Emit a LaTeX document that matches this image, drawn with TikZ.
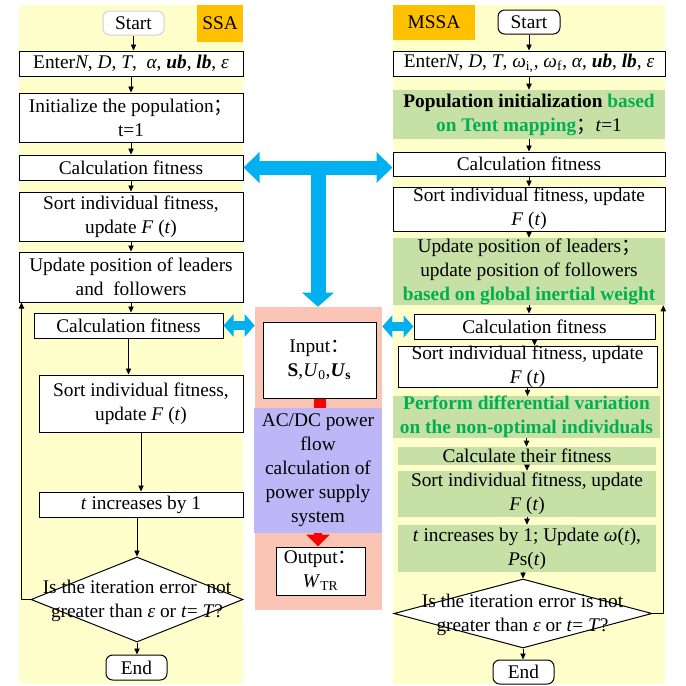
\documentclass[tikz,border=0pt]{standalone}
\usepackage{fontspec}
\setmainfont{Liberation Serif}
\newfontfamily\cjk{Noto Sans CJK SC}
\usepackage{xcolor}
\usepackage{tikz}
\usetikzlibrary{arrows.meta}
\usetikzlibrary{calc}
\usetikzlibrary{shapes.geometric}
\definecolor{bgyellow}{HTML}{FFFFCC}
\definecolor{tagorange}{HTML}{FFC000}
\definecolor{boxgreen}{HTML}{C6E0A6}
\definecolor{txtgreen}{HTML}{00B050}
\definecolor{midpink}{HTML}{FBC5B5}
\definecolor{flowpurple}{HTML}{BDB7F7}
\definecolor{arrowblue}{HTML}{00B0F0}
\newcommand\bi[1]{\textbf{\textit{#1}}}
\newcommand\gtxt[1]{{\color{txtgreen}\textbf{#1}}}
\newcommand\fsemi{{\cjk ；}}
\newcommand\fcolon{{\cjk ：}}
\tikzset{sz/.style 2 args={minimum width=#1*.75pt,minimum height=#2*.75pt}}
\tikzstyle{panel}=[fill=bgyellow,inner sep=0pt]
\tikzstyle{tag}=[fill=tagorange,inner sep=0pt]
\tikzstyle{stepbox}=[draw,line width=.75pt,fill=white,align=center,inner sep=0pt]
\tikzstyle{greenbox}=[fill=boxgreen,align=center,inner sep=0pt]
\tikzstyle{term}=[draw,line width=.75pt,rounded corners=5pt,fill=white,inner sep=0pt]
\tikzstyle{decision}=[draw,line width=.75pt,diamond,fill=white,inner sep=0pt]
\tikzstyle{flow}=[line width=.6pt,-{Triangle[length=4.5pt,width=4pt]}]
\tikzstyle{bigarrow}=[draw=arrowblue,line width=10.5pt,{Triangle[length=12pt,width=22.5pt]}-{Triangle[length=12pt,width=22.5pt]}]
\tikzstyle{bigstem}=[draw=arrowblue,line width=11.25pt,-{Triangle[length=10.5pt,width=23.25pt]}]
\tikzstyle{sidearrow}=[draw=arrowblue,line width=6.75pt,{Triangle[length=7.5pt,width=16.5pt]}-{Triangle[length=7.5pt,width=16.5pt]}]

\begin{document}
\begin{tikzpicture}[x=.75pt,y=-.75pt,font=\fontsize{14.5}{18}\selectfont]
	\fill[white] (0,0) rectangle (686,686);
	\useasboundingbox (0,0) rectangle (686,686);
	\node[panel,sz={224}{679}] (panelL) at (131,344.5) {};
	\node[panel,sz={272}{679}] (panelR) at (529,344.5) {};
	\node[fill=midpink,inner sep=0pt,sz={127}{303}] (mid) at (318.5,458.5) {};
	% SSA
	\node[tag,sz={46}{37}] (ssa) at (220,23.5) {SSA};
	\node[term,draw=gray!35,sz={61}{24}] (startL) at (133.5,23) {Start};
	\node[stepbox,sz={224}{25}] (enterL) at (131,63.5) {Enter\textit{N}, \textit{D}, \textit{T},\ \ \textit{α}, \bi{ub}, \bi{lb}, \textit{ε}};
	\node[stepbox,sz={224}{49}] (initL) at (131,117.5) {Initialize the population\fsemi\\t=1};
	\node[stepbox,sz={224}{25}] (calcL) at (131,167.5) {Calculation fitness};
	\node[stepbox,sz={224}{49}] (sortL) at (131,216.5) {Sort individual fitness,\\update \textit{F} (\textit{t})};
	\node[stepbox,sz={224}{50}] (updL) at (131,277) {Update position of leaders\\and\ \ followers};
	\node[stepbox,sz={189}{25}] (calcL2) at (128.5,325.5) {Calculation fitness};
	\node[stepbox,sz={204}{57}] (sortL2) at (141,403.5) {Sort individual fitness,\\update \textit{F} (\textit{t})};
	\node[stepbox,sz={204}{25}] (incL) at (141,504.5) {\textit{t} increases by 1};
	\node[decision,sz={212}{85}] (decL) at (137,599.5) {};
	\node[align=center] (decLtxt) at (137,601) {Is the iteration error\ \ not\\greater than \textit{ε} or \textit{t}= \textit{T}?};
	\node[term,sz={61}{25}] (endL) at (136.5,667.5) {End};
	% MSSA
	\node[tag,sz={82}{35}] (mssa) at (434,22.5) {MSSA};
	\node[term,sz={62}{24}] (startR) at (529,22) {Start};
	\node[stepbox,sz={272}{25}] (enterR) at (529,63.5) {Enter\textit{N}, \textit{D}, \textit{T}, \textit{ω}\textsubscript{i,}, \textit{ω}\textsubscript{f}, \textit{α}, \bi{ub}, \bi{lb}, \textit{ε}};
	\node[greenbox,sz={272}{49}] (initR) at (529,114.5) {\textbf{Population initialization} \gtxt{based}\\\gtxt{on Tent mapping}\fsemi\textit{t}=1};
	\node[stepbox,sz={272}{24}] (calcR) at (529,164) {Calculation fitness};
	\node[stepbox,sz={272}{44}] (sortR) at (529,209) {Sort individual fitness, update\\\textit{F} (\textit{t})};
	\node[greenbox,sz={272}{67}] (updR) at (529,271.5) {Update position of leaders\fsemi\\update position of followers\\\gtxt{based on global inertial weight}};
	\node[stepbox,sz={241}{25}] (calcR2) at (534.5,326.5) {Calculation fitness};
	\node[stepbox,sz={259}{40}] (sortR2) at (527.5,367) {Sort individual fitness, update\\\textit{F} (\textit{t})};
	\node[greenbox,sz={267}{40}] (perfR) at (526.5,417) {\gtxt{Perform differential variation}\\\gtxt{on the non-optimal individuals}};
	\node[greenbox,sz={258}{18}] (fitR) at (527,456) {Calculate their fitness};
	\node[greenbox,sz={258}{46}] (sortR3) at (527,494) {Sort individual fitness, update\\\textit{F} (\textit{t})};
	\node[greenbox,sz={258}{47}] (incR) at (527,548.5) {\textit{t} increases by 1; Update \textit{ω}(\textit{t}),\\\textit{P}s(\textit{t})};
	\node[decision,sz={258}{69}] (decR) at (523,613.5) {};
	\node[align=center] (decRtxt) at (522.5,615) {Is the iteration error is not\\greater than \textit{ε} or \textit{t}= \textit{T}?};
	\node[term,sz={61}{24}] (endR) at (523.5,672) {End};
	% power flow
	\node[stepbox,sz={113}{76}] (inp) at (319.5,360) {Input\fcolon\\\textbf{S},\textit{U}\textsubscript{0},\bi{U}\textsubscript{\textbf{s}}};
	\node[fill=flowpurple,align=center,inner sep=0pt,sz={128}{125}] (flow) at (318,470.5) {AC/DC power\\flow\\calculation of\\power supply\\system};
	\node[stepbox,sz={89}{48}] (outp) at (320.5,571) {Output\fcolon\\\textit{W}\textsubscript{TR}};

	\foreach \a/\b in {startL/enterL,enterL/initL,initL/calcL,calcL/sortL,sortL/updL,updL/calcL2,calcL2/sortL2,sortL2/incL,
		startR/enterR,enterR/initR,initR/calcR,calcR/sortR,sortR/updR,updR/calcR2,calcR2/sortR2,sortR2/perfR,perfR/fitR,fitR/sortR3,sortR3/incR}
		\draw[flow] (\a.south) -- (\a.south |- \b.north);
	\draw[flow] (decL.north |- incL.south) -- (decL.north);
	\draw[flow] (decR.north |- incR.south) -- (decR.north);
	\draw[flow] (decL.south) -- (decL.south |- endL.north);
	\draw[flow] (decR.south) -- (decR.south |- endR.north);
	\draw[flow] (decL.west) -| ([xshift=2.25pt]updL.south west);
	\draw[flow] (decR.east) -| ([xshift=-1.5pt]updR.south east);

	\coordinate (tee) at ($(calcL.east)!.5!(calcL.east -| calcR.west)$);
	\draw[bigstem] (tee) -- (tee |- mid.north);
	\draw[bigarrow] (calcL.east) -- (calcL.east -| calcR.west);
	\draw[sidearrow] (calcL2.east) -- (calcL2.east -| mid.west);
	\draw[sidearrow] (mid.east |- calcR2.west) -- (calcR2.west);
	\draw[red,line width=9pt] (inp.south) -- (inp.south |- flow.north);
	\draw[red,line width=6pt,-{Triangle[length=9pt,width=17.25pt]}] (flow.south) -- (flow.south |- outp.north);
\end{tikzpicture}
\end{document}
